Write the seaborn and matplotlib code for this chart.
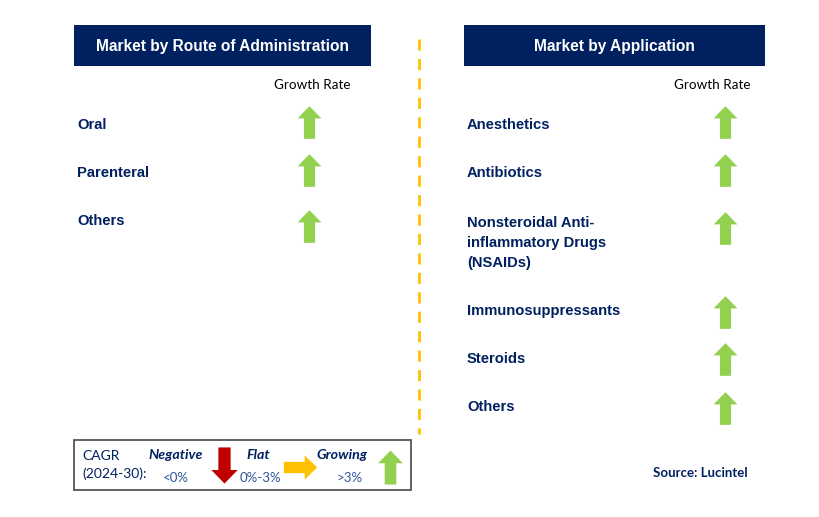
import numpy as np
import matplotlib
matplotlib.use("Agg")
import matplotlib.pyplot as plt
from matplotlib.path import Path
from matplotlib.patches import Rectangle
import pandas as pd
import seaborn as sns

# Segment data
route_segments = ["Oral", "Parenteral", "Others"]
route_growth = ["Growing", "Growing", "Growing"]

app_segments = ["Anesthetics", "Antibiotics",
                "Nonsteroidal Anti-\ninflammatory Drugs\n(NSAIDs)",
                "Immunosuppressants", "Steroids", "Others"]
app_growth = ["Growing", "Growing", "Growing", "Growing", "Growing", "Growing"]

# Legend
legend_names = ["Negative", "Flat", "Growing"]
legend_ranges = ["<0%", "0%-3%", ">3%"]

# Layout (pixel coords)
route_label_y = [125, 173, 221]
route_arrow_y = [122, 170, 226]
app_label_y = [125, 173, 243, 311, 359, 407]
app_arrow_y = [122, 169.5, 227.5, 311.5, 358.5, 407.5]

NAVY = "#002060"
GREEN = "#92D050"
RED = "#C00000"
YELLOW = "#FFC000"

sns.set_theme(style="white")
plt.rcParams['font.family'] = ['Liberation Sans', 'DejaVu Sans']

# arrow marker (pointing up)
up_verts = np.array([[-0.34, -1], [0.34, -1], [0.34, 0.25], [0.73, 0.25],
                     [0, 1], [-0.73, 0.25], [-0.34, 0.25], [-0.34, -1]])
up_path = Path(up_verts, closed=True)
down_path = Path(up_verts * [1, -1], closed=True)
right_path = Path(up_verts[:, ::-1], closed=True)

fig = plt.figure(figsize=(8.19, 5.17), dpi=100)
ax = fig.add_axes([0, 0, 1, 1])
ax.set_xlim(0, 819)
ax.set_ylim(517, 0)
ax.axis("off")

# headers
ax.add_patch(Rectangle((74, 25), 297, 41, color=NAVY, lw=0))
ax.add_patch(Rectangle((464, 25), 301, 41, color=NAVY, lw=0))
ax.text(222.5, 46, "Market by Route of Administration", color="white",
        fontsize=11.2, fontweight="bold", ha="center", va="center")
ax.text(614.5, 46, "Market by Application", color="white",
        fontsize=11.2, fontweight="bold", ha="center", va="center")

ax.text(312, 85, "Growth Rate", fontsize=9.7, fontfamily="Lato",
        ha="center", va="center", color="black")
ax.text(712, 85, "Growth Rate", fontsize=9.7, fontfamily="Lato",
        ha="center", va="center", color="black")

# divider
ax.plot([419, 419], [39, 434], color=YELLOW, lw=2, ls=(0, (4, 3)))

# labels
for name, y in zip(route_segments, route_label_y):
    ax.text(77, y, name, color=NAVY, fontsize=10.6, fontweight="bold",
            va="center", ha="left")
for name, y in zip(app_segments, app_label_y):
    ax.text(467, y, name, color=NAVY, fontsize=10.6, fontweight="bold",
            va="center", ha="left", linespacing=1.55)

# arrows
marker_for = {"Growing": (up_path, GREEN), "Negative": (down_path, RED),
              "Flat": (right_path, YELLOW)}
df_route = pd.DataFrame({"x": 309, "y": route_arrow_y, "g": route_growth})
df_app = pd.DataFrame({"x": 725, "y": app_arrow_y, "g": app_growth})
for df in (df_route, df_app):
    for g, sub in df.groupby("g"):
        path, col = marker_for[g]
        sns.scatterplot(data=sub, x="x", y="y", marker=path, color=col,
                        s=23.5 ** 2, linewidth=0, ax=ax, legend=False)

# legend box
ax.add_patch(Rectangle((74, 440), 337, 50, fill=False, ec="#555555", lw=1.3))
ax.text(82, 456, "CAGR", color=NAVY, fontsize=10, fontfamily="Lato",
        va="center", ha="left")
ax.text(82, 474, "(2024-30):", color=NAVY, fontsize=10, fontfamily="Lato",
        va="center", ha="left")
name_x = [176, 258, 342]
range_x = [176, 260, 350]
for n, r, nx, rx in zip(legend_names, legend_ranges, name_x, range_x):
    ax.text(nx, 455, n, color=NAVY, fontsize=10.3, fontfamily="Lato",
            fontweight="bold", fontstyle="italic", ha="center", va="center")
    ax.text(rx, 478, r, color="#2E5597", fontsize=9.5, fontfamily="Lato",
            ha="center", va="center")
leg_df = pd.DataFrame({"x": [224, 300, 390], "y": [465, 466.5, 467],
                       "g": legend_names})
leg_size = {"Negative": 26, "Flat": 24, "Growing": 24.5}
for _, row in leg_df.iterrows():
    path, col = marker_for[row["g"]]
    ax.scatter(row["x"], row["y"], marker=path, color=col,
               s=leg_size[row["g"]] ** 2, linewidths=0)

ax.text(700, 473, "Source: Lucintel", color=NAVY, fontsize=9.5,
        fontfamily="Lato", fontweight="bold", ha="center", va="center")

fig.savefig("out.png", dpi=100)
